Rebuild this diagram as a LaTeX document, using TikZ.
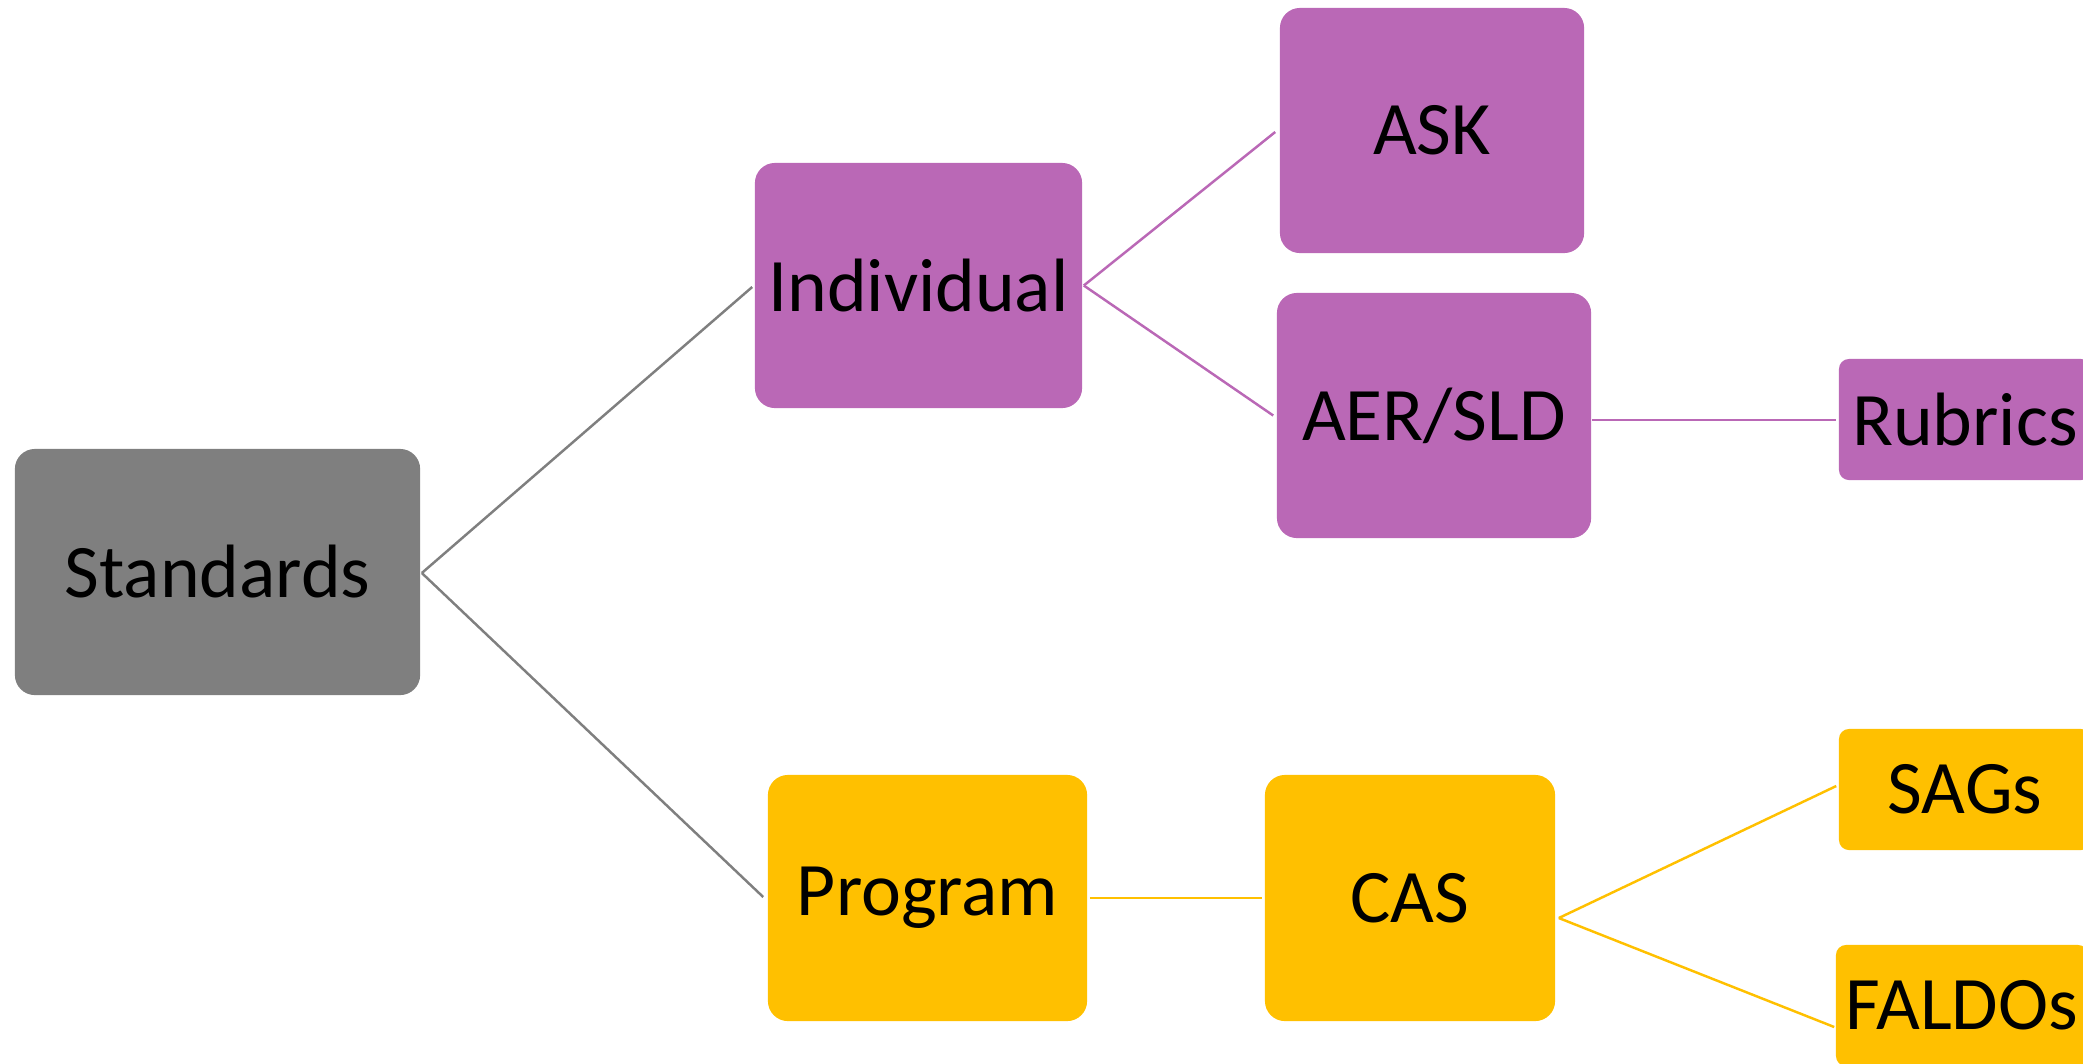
\documentclass[tikz,border=0pt]{standalone}
\usepackage{fontspec}
\setmainfont{Carlito}
\usetikzlibrary{calc}
\definecolor{grayc}{RGB}{127,127,127}
\definecolor{purc}{RGB}{186,104,182}
\definecolor{goldc}{RGB}{255,192,0}
\tikzset{
  box/.style={rectangle, inner sep=0pt, text=black,
    font=\fontsize{21.5}{26}\selectfont},
  bigbox/.style={box, rounded corners=0.2cm},
  smallbox/.style={box, rounded corners=0.1cm},
  conn/.style={line width=0.7pt}
}
\begin{document}
\begin{tikzpicture}[x=0.01cm,y=-0.01cm]
\useasboundingbox (0,0) rectangle (2083,1063);
\clip (0,0) rectangle (2083,1063);
% nodes
\node[bigbox, fill=grayc, minimum width=4.05cm, minimum height=2.46cm] (std) at (217.5,572) {Standards};
\node[bigbox, fill=purc, minimum width=3.27cm, minimum height=2.45cm] (ind) at (918.5,285.5) {Individual};
\node[bigbox, fill=purc, minimum width=3.04cm, minimum height=2.45cm] (ask) at (1432,130.5) {ASK};
\node[bigbox, fill=purc, minimum width=3.14cm, minimum height=2.45cm] (aer) at (1434,415.5) {AER/SLD};
\node[smallbox, fill=purc, minimum width=2.52cm, minimum height=1.21cm] (rub) at (1965,419.5) {Rubrics};
\node[bigbox, fill=goldc, minimum width=3.19cm, minimum height=2.46cm] (prog) at (927.5,898) {Program};
\node[bigbox, fill=goldc, minimum width=2.90cm, minimum height=2.46cm] (cas) at (1410,898) {CAS};
\node[smallbox, fill=goldc, minimum width=2.52cm, minimum height=1.21cm] (sags) at (1965,789.5) {SAGs};
\node[smallbox, fill=goldc, minimum width=2.52cm, minimum height=1.21cm] (faldo) at (1962,1005.5) {FALDOs};
% connector points
\coordinate (stdA) at ($(std.east)+(1,1)$);
\coordinate (indA) at ($(ind.east)+(1,0)$);
\coordinate (aerA) at ($(aer.east)+(0,4.5)$);
\coordinate (casA) at ($(cas.east)+(3,20)$);
\coordinate (sagsA) at ($(sags.west)+(-2,-3.5)$);
\coordinate (faldoA) at ($(faldo.west)+(-1,21.5)$);
% connectors
\draw[conn, grayc] (stdA) -- ($(ind.west)+(-2,1.5)$);
\draw[conn, grayc] (stdA) -- ($(prog.west)+(-4,-1)$);
\draw[conn, purc] (indA) -- ($(ask.west)+(-4,1.5)$);
\draw[conn, purc] (indA) -- ($(aer.west)+(-3,0)$);
\draw[conn, purc] (aerA) -- ($(rub.west)+(-2,0.5)$);
\draw[conn, goldc] ($(prog.east)+(2,0)$) -- ($(cas.west)+(-2,0)$);
\draw[conn, goldc] (casA) -- (sagsA);
\draw[conn, goldc] (casA) -- (faldoA);
\end{tikzpicture}
\end{document}
